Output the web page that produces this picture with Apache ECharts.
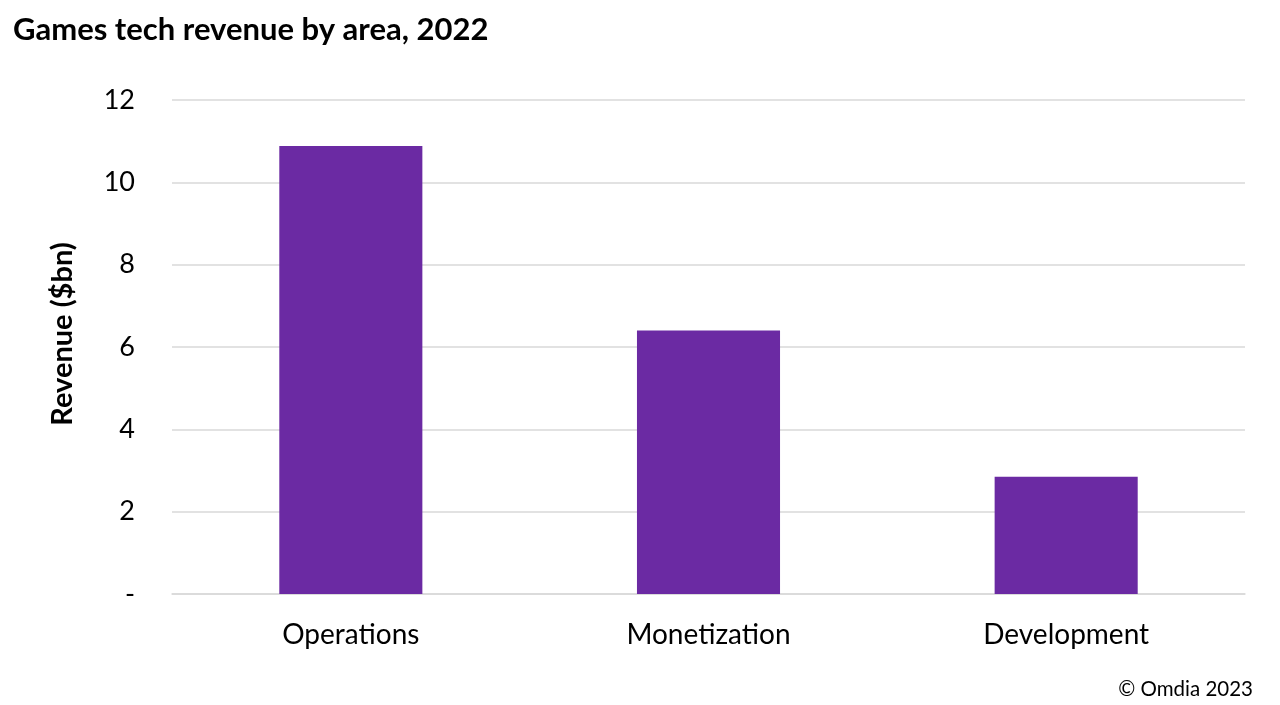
<!DOCTYPE html>
<html>
<head>
<meta charset="utf-8">
<script src="https://cdn.jsdelivr.net/npm/echarts@6/dist/echarts.min.js"></script>
<style>html,body{margin:0;padding:0;background:#fff}#main{width:1280px;height:705px}</style>
</head>
<body>
<div id="main"></div>
<script>
const categories = ['Operations', 'Monetization', 'Development'];
const revenue = [10.88, 6.40, 2.85];
const yTicks = [0, 2, 4, 6, 8, 10, 12];

const chart = echarts.init(document.getElementById('main'));
const FONT = 'Lato';
chart.setOption({
  animation: false,
  title: [{
    text: 'Games tech revenue by area, 2022',
    left: 8, top: 9,
    textStyle: { fontFamily: FONT, fontWeight: 'bold', fontSize: 31, color: '#000' }
  }, {
    text: '© Omdia 2023',
    right: 22, bottom: 0,
    textStyle: { fontFamily: FONT, fontWeight: 'normal', fontSize: 20.5, color: '#000' }
  }],
  grid: { left: 172, right: 35, top: 100, bottom: 111 },
  xAxis: {
    type: 'category',
    data: categories,
    axisLine: { show: true, lineStyle: { color: '#d9d9d9', width: 1.5 } },
    axisTick: { show: false },
    axisLabel: { fontFamily: FONT, fontSize: 28, color: '#000', margin: 27 }
  },
  yAxis: {
    type: 'value',
    min: yTicks[0], max: yTicks[yTicks.length - 1], interval: 2,
    name: 'Revenue ($bn)',
    nameLocation: 'middle',
    nameGap: 95,
    nameTextStyle: { fontFamily: FONT, fontWeight: 'bold', fontSize: 29, color: '#000', padding: [0, 0, 0, 26] },
    axisLine: { show: false },
    axisTick: { show: false },
    splitLine: { lineStyle: { color: '#d9d9d9', width: 1.5 } },
    axisLabel: {
      fontFamily: FONT, fontSize: 27, color: '#000', margin: 37,
      formatter: v => v === 0 ? '-' : String(v)
    }
  },
  series: [{
    type: 'bar',
    data: revenue,
    barWidth: '40%',
    itemStyle: { color: '#6b2aa3' }
  }]
});
</script>
</body>
</html>
